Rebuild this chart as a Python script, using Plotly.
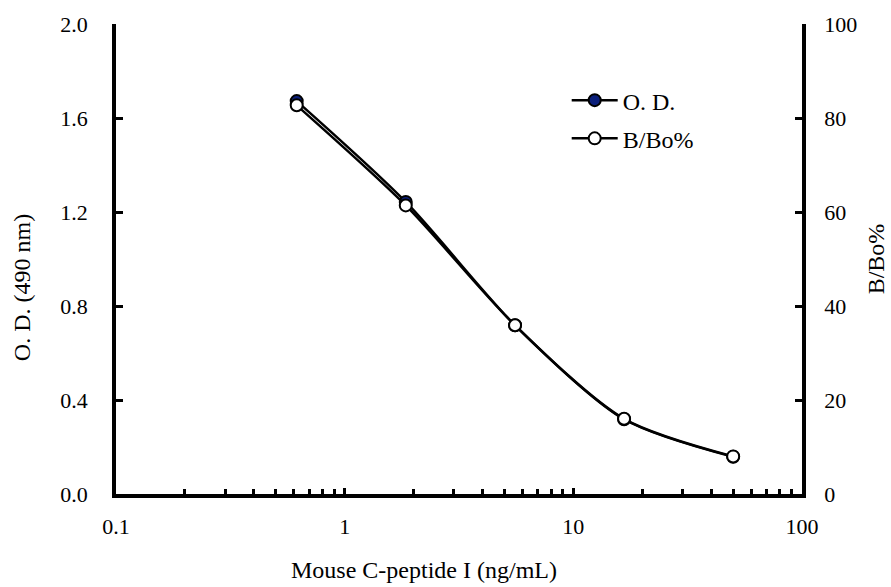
import plotly.graph_objects as go

conc = [0.617, 1.85, 5.56, 16.67, 50.0]
od = [1.672, 1.243, 0.718, 0.318, 0.158]
bbo = [82.7, 61.4, 35.9, 16.0, 8.0]

x_tickvals = [0.1, 1, 10, 100]
x_ticktext = ["0.1", "1", "10", "100"]
y1_ticks = [0.0, 0.4, 0.8, 1.2, 1.6, 2.0]
y2_ticks = [0, 20, 40, 60, 80, 100]

FONT = "Liberation Serif, Times New Roman, serif"
FS = 22
TS = 24

fig = go.Figure()
fig.add_trace(go.Scatter(
    x=conc, y=od, name="O. D.", mode="lines+markers", legendgroup="a",
    line=dict(color="black", width=2.5, shape="spline", smoothing=0.8),
    marker=dict(symbol="circle", size=12, color="#0a1e7a", line=dict(color="black", width=2)),
    yaxis="y"))
fig.add_trace(go.Scatter(
    x=conc, y=bbo, name="B/Bo%", mode="lines+markers", legendgroup="b",
    line=dict(color="black", width=2.5, shape="spline", smoothing=0.8),
    marker=dict(symbol="circle", size=12, color="white", line=dict(color="black", width=2)),
    yaxis="y2"))

fig.update_layout(
    width=891, height=587,
    margin=dict(l=116, r=89, t=24, b=93, autoexpand=False),
    paper_bgcolor="white", plot_bgcolor="white",
    font=dict(family=FONT, size=FS, color="black"),
    showlegend=True,
    legend=dict(x=0.657, y=0.885, xanchor="left", yanchor="top",
                bgcolor="rgba(0,0,0,0)", font=dict(family=FONT, size=TS),
                tracegroupgap=4, itemwidth=46),
    xaxis=dict(type="log", range=[-1, 2], tickvals=x_tickvals, ticktext=x_ticktext,
               automargin=False,
               showgrid=False, zeroline=False, showline=True, linecolor="black", linewidth=3.5,
               ticks="inside", ticklen=6, tickwidth=3, tickcolor="black",
               ticklabelstandoff=10,
               minor=dict(ticks="inside", ticklen=5, tickwidth=2.5, tickcolor="black", dtick="D1",
                          showgrid=False),
               tickfont=dict(family=FONT, size=FS)),
    yaxis=dict(range=[0, 2.0], tickvals=y1_ticks, ticktext=[f"{v:.1f}" for v in y1_ticks],
               automargin=False,
               showgrid=False, zeroline=False, showline=True, linecolor="black", linewidth=3.5,
               ticks="inside", ticklen=7, tickwidth=3, tickcolor="black",
               ticklabelstandoff=20,
               tickfont=dict(family=FONT, size=FS)),
    yaxis2=dict(range=[0, 100], tickvals=y2_ticks, overlaying="y", side="right",
                automargin=False,
                showgrid=False, zeroline=False, showline=True, linecolor="black", linewidth=3.5,
                ticks="inside", ticklen=7, tickwidth=3, tickcolor="black",
                ticklabelstandoff=14,
                title=dict(text="B/Bo%", standoff=12, font=dict(family=FONT, size=TS)),
                tickfont=dict(family=FONT, size=FS)),
    annotations=[
        dict(text="Mouse C-peptide I (ng/mL)", xref="paper", yref="paper",
             x=0.449, y=-0.162, xanchor="center", yanchor="middle", showarrow=False,
             font=dict(family=FONT, size=TS)),
        dict(text="O. D. (490 nm)", xref="paper", yref="paper", textangle=-90,
             x=-0.137, y=0.438, xanchor="center", yanchor="middle", showarrow=False,
             font=dict(family=FONT, size=TS)),
    ],
)

fig.write_html("out.html")
